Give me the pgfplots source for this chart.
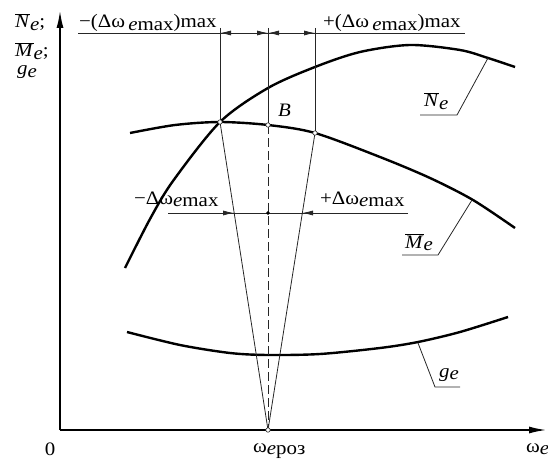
\documentclass[border=0pt]{standalone}
\usepackage{pgfplots}
\pgfplotsset{compat=1.18}
\usepackage{fontspec}
\setmainfont{Liberation Serif}[FakeStretch=1.1]
\usetikzlibrary{arrows.meta}
\newcommand{\ob}[1]{$\overline{\mbox{\textit{#1}}}$}
\newcommand{\lw}[1]{\raisebox{-0.3ex}{#1}}
\begin{document}
\begin{tikzpicture}
\begin{axis}[
  scale only axis, width=548pt, height=461pt,
  xmin=0, xmax=548, ymin=0, ymax=461,
  axis lines=none, clip=false,
  font=\fontsize{19}{22}\selectfont,
  thin/.style={line width=0.8pt, black!85},
  dim/.style={thin, {Latex[length=11pt,width=5pt]}-{Latex[length=11pt,width=5pt]}},
]
\path (axis cs:0,0) -- (axis cs:548,461);
% axes
\addplot[line width=2pt, -{Latex[length=18pt,width=7pt]}] coordinates {(60,31) (547,31)};
\addplot[line width=2pt, -{Latex[length=18pt,width=7pt]}] coordinates {(60,31) (60,451)};
% curves
\addplot[line width=2.4pt, smooth] coordinates {(125,193) (150,242) (173,280) (220,339) (268,373) (315,394) (360,409) (410,416) (460,411) (488,403) (515,394)};
\addplot[line width=2.4pt, smooth] coordinates {(130,328) (175,336) (220,339) (268,336) (315,328) (380,304) (430,283) (473,261) (515,233)};
\addplot[line width=2.4pt, smooth] coordinates {(127,129) (180,116) (230,108) (268,106) (320,107) (380,113) (418,119) (460,129) (508,144)};
% construction lines
\addplot[thin] coordinates {(220,433) (220,339)};
\addplot[thin] coordinates {(315,433) (315,328)};
\addplot[thin] coordinates {(268,433) (268,336)};
\addplot[thin, dash pattern=on 9pt off 4pt] coordinates {(268,336) (268,31)};
\addplot[thin] coordinates {(220,339) (268,31) (315,328)};
\addplot[thin] coordinates {(78,428) (465,428)};
\addplot[dim] coordinates {(220,428) (268,428)};
\addplot[dim] coordinates {(268,428) (315,428)};
\addplot[thin] coordinates {(168,248) (408,248)};
\addplot[thin, -{Latex[length=11pt,width=5pt]}] coordinates {(168,248) (234,248)};
\addplot[thin, -{Latex[length=11pt,width=5pt]}] coordinates {(408,248) (302,248)};
% leaders
\addplot[thin] coordinates {(488,403) (457,346) (420,346)};
\addplot[thin] coordinates {(472,261) (438,206) (402,206)};
\addplot[thin] coordinates {(418,118) (435,74) (460,74)};
% points
\addplot[only marks, mark=*, mark size=2.2pt, mark options={fill=white, draw=black!80, line width=0.6pt}] coordinates {(220,339) (268,336) (315,328) (268,31)};
\addplot[only marks, mark=*, mark size=1.6pt, black] coordinates {(268,248)};
% labels
\node[anchor=base west, inner sep=0pt] at (axis cs:79,433) {−(Δω\,\lw{\textit{e}max})max};
\node[anchor=base west, inner sep=0pt] at (axis cs:323,433) {+(Δω\,\lw{\textit{e}max})max};
\node[anchor=base west, inner sep=0pt] at (axis cs:134,257) {−Δω\lw{\textit{e}max}};
\node[anchor=base west, inner sep=0pt] at (axis cs:320,257) {+Δω\lw{\textit{e}max}};
\node[anchor=base west, inner sep=0pt] at (axis cs:278,344) {\textit{B}};
\node[anchor=base west, inner sep=0pt] at (axis cs:424,354) {\ob{N}\lw{\textit{e}}};
\node[anchor=base west, inner sep=0pt] at (axis cs:405,213) {\ob{M}\lw{\textit{e}}};
\node[anchor=base west, inner sep=0pt] at (axis cs:439,84) {\textit{g}\lw{\textit{e}}};
\node[anchor=base west, inner sep=0pt] at (axis cs:15,433) {\ob{N}\lw{\textit{e}};};
\node[anchor=base west, inner sep=0pt] at (axis cs:15,404) {\ob{M}\lw{\textit{e}};};
\node[anchor=base west, inner sep=0pt] at (axis cs:17,386) {\textit{g}\lw{\textit{e}}};
\node[anchor=base, inner sep=0pt] at (axis cs:50,6) {0};
\node[anchor=base west, inner sep=0pt] at (axis cs:253,9) {ω\lw{\textit{e}роз}};
\node[anchor=base west, inner sep=0pt, overlay] at (axis cs:526,9) {ω\lw{\textit{e}}};
\end{axis}
\end{tikzpicture}
\end{document}
